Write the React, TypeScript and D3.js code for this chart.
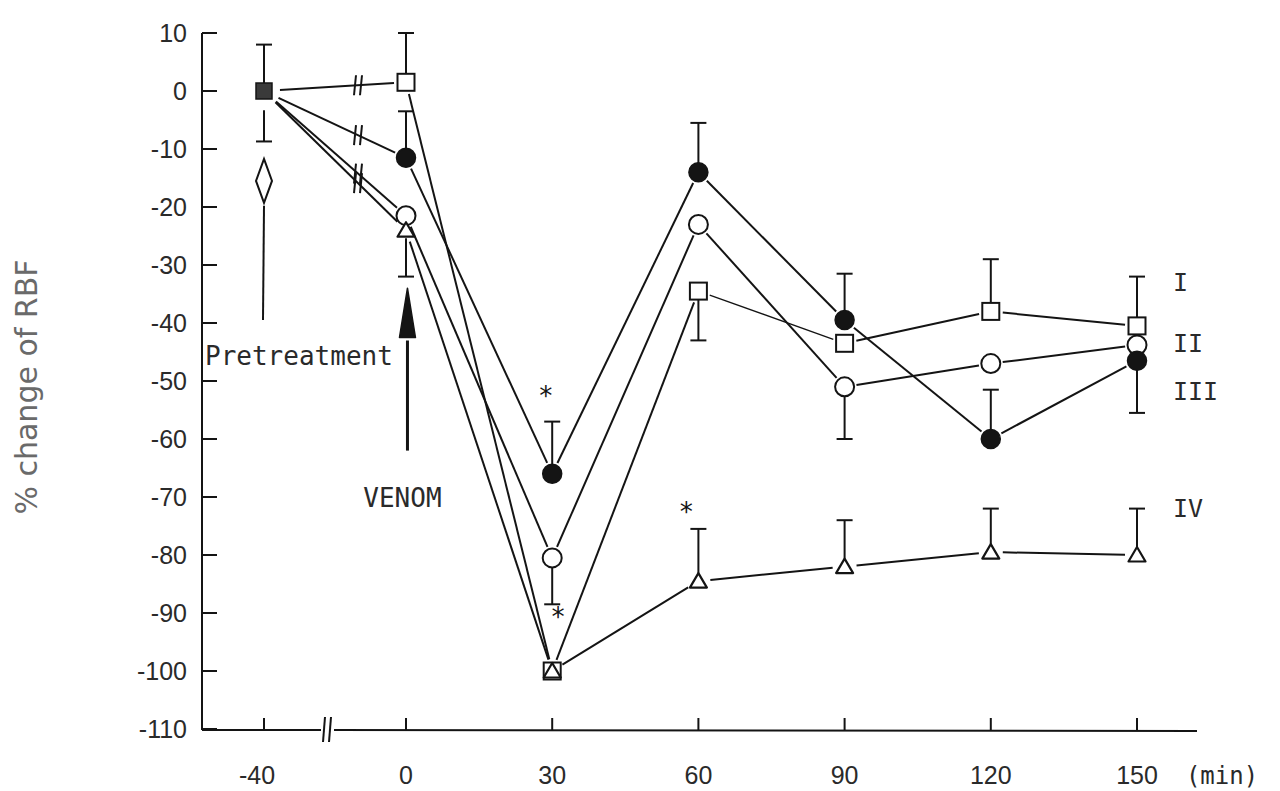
import React from "react";
import * as d3 from "d3";

// ---------- data ----------
const times = [-40, 0, 30, 60, 90, 120, 150];
const xTickValues = [-40, 0, 30, 60, 90, 120, 150];
const yTickValues = [10, 0, -10, -20, -30, -40, -50, -60, -70, -80, -90, -100, -110];

const seriesNames = ["I", "II", "III", "IV"];
const seriesShapes = ["square", "circleOpen", "circleFilled", "triangle"];
// % change of RBF (mean)
const seriesI = [0, 1.5, -100, -34.5, -43.5, -38, -40.5];
const seriesII = [0, -21.5, -80.5, -23, -51, -47, -43.8];
const seriesIII = [0, -11.5, -66, -14, -39.5, -60, -46.5];
const seriesIV = [0, -24, -100, -84.5, -82, -79.5, -80];
// end value of the one-sided error bar (null = none)
const errI = [null, 10, null, -43, null, -29, -32];
const errII = [null, null, -88.5, null, -60, null, null];
const errIII = [null, -3.5, -57, -5.5, -31.5, -51.5, -55.5];
const errIV = [null, -32, null, -75.5, -74, -72, -72];
// pretreatment (-40 min) shared point error bar: upper end, lower start / end
const pretreatUpper = 8;
const pretreatLower = [-3.3, -8.7];

// series end labels: value positions
const seriesLabelValues = [-33, -43.4, -51.7, -71.9];

// significance asterisks [time, value]
const asterisks = [
  [28.7, -51.8],
  [31.2, -89.8],
  [57.5, -71.8],
];

// arrows (values along the y axis)
const pretreatArrow = { t: -40, diamondCenter: -15.5, lineFrom: -19.8, lineTo: -39.5 };
const venomArrow = { t: 0.3, tip: -34, base: -42.5, lineTo: -62 };

// ---------- layout ----------
const W = 1280;
const H = 791;
const axisLeft = 202;
const axisRight = 1197;
const axisY = 730;

const x = d3.scaleLinear().domain([-40, 0, 150]).range([264, 406, 1137]);
const y = d3.scaleLinear().domain([10, -110]).range([33, 729]);

const INK = "#141414";
const TEXT = "#2a2a2a";
const monoFont = "'DejaVu Sans Mono', monospace";
const sansFont = "'Liberation Sans', Arial, sans-serif";

const allValues = [seriesI, seriesII, seriesIII, seriesIV];
const allErr = [errI, errII, errIII, errIV];

function Marker({ shape, cx, cy }: { shape: string; cx: number; cy: number }) {
  if (shape === "square") {
    return <rect x={cx - 8.5} y={cy - 8.5} width={17} height={17} fill="white" stroke={INK} strokeWidth={2} />;
  }
  if (shape === "circleOpen") {
    return <circle cx={cx} cy={cy} r={9.5} fill="white" stroke={INK} strokeWidth={2} />;
  }
  if (shape === "circleFilled") {
    return <circle cx={cx} cy={cy} r={9.5} fill={INK} stroke={INK} strokeWidth={1.5} />;
  }
  const pts = [
    [cx, cy - 8],
    [cx + 8.5, cy + 6.5],
    [cx - 8.5, cy + 6.5],
  ]
    .map((p) => p.join(","))
    .join(" ");
  return <polygon points={pts} fill="white" stroke={INK} strokeWidth={2.2} strokeLinejoin="round" />;
}

function trimmed(x1: number, y1: number, x2: number, y2: number, a: number, b: number) {
  const dx = x2 - x1;
  const dy = y2 - y1;
  const len = Math.hypot(dx, dy);
  const ux = dx / len;
  const uy = dy / len;
  return [x1 + ux * a, y1 + uy * a, x2 - ux * b, y2 - uy * b];
}

export default function App() {
  const breakX = 358;
  const lines: React.ReactNode[] = [];
  const breaks: React.ReactNode[] = [];
  const errs: React.ReactNode[] = [];
  const markers: React.ReactNode[] = [];

  allValues.forEach((vals, s) => {
    for (let i = 0; i < vals.length - 1; i++) {
      const x1 = x(times[i]);
      const y1 = y(vals[i]);
      const x2 = x(times[i + 1]);
      const y2 = y(vals[i + 1]);
      const [a1, b1, a2, b2] = trimmed(x1, y1, x2, y2, i === 0 ? 16 : 12, 12);
      lines.push(
        <line key={`l${s}-${i}`} x1={a1} y1={b1} x2={a2} y2={b2} stroke={INK} strokeWidth={s === 0 && i === 3 ? 1.3 : 2} />
      );
      if (i === 0) {
        const f = (breakX - x1) / (x2 - x1);
        const by = y1 + f * (y2 - y1);
        [-3, 3].forEach((o, k) => {
          breaks.push(
            <line key={`b${s}-${k}`} x1={breakX + o + 1} y1={by - 10} x2={breakX + o - 1} y2={by + 10} stroke={INK} strokeWidth={2} />
          );
        });
      }
    }
    const errsOf = allErr[s];
    vals.forEach((v, i) => {
      const e = errsOf[i];
      if (e === null || e === undefined) return;
      const cx = x(times[i]);
      const cy = y(v);
      const ey = y(e);
      const dir = ey < cy ? -1 : 1;
      errs.push(
        <g key={`e${s}-${i}`} stroke={INK} strokeWidth={2}>
          <line x1={cx} y1={cy + dir * 8} x2={cx} y2={ey} />
          <line x1={cx - 8} y1={ey} x2={cx + 8} y2={ey} />
        </g>
      );
    });
    vals.forEach((v, i) => {
      if (i === 0) return;
      markers.push(<Marker key={`m${s}-${i}`} shape={seriesShapes[s]} cx={x(times[i])} cy={y(v)} />);
    });
  });

  const px0 = x(times[0]);
  const py0 = y(0);

  const dX = x(pretreatArrow.t);
  const dY = y(pretreatArrow.diamondCenter);
  const vX = x(venomArrow.t);

  return (
    <svg width={W} height={H} style={{ position: "absolute", left: 0, top: 0, background: "white" }}>
      <rect x={0} y={0} width={W} height={H} fill="white" />

      {/* y axis */}
      <line x1={axisLeft} y1={y(10)} x2={axisLeft} y2={axisY} stroke={INK} strokeWidth={2} />
      {yTickValues.map((v) => (
        <g key={`yt${v}`}>
          <line x1={axisLeft} y1={y(v)} x2={axisLeft + 15} y2={y(v)} stroke={INK} strokeWidth={2} />
          <text x={187} y={y(v)} dy="0.36em" textAnchor="end" fontFamily={sansFont} fontSize={25} fill={TEXT}>
            {String(v)}
          </text>
        </g>
      ))}

      {/* x axis with break */}
      <line x1={axisLeft} y1={axisY} x2={321} y2={axisY} stroke={INK} strokeWidth={2} />
      <line x1={334} y1={axisY} x2={axisRight} y2={axisY + 1} stroke={INK} strokeWidth={2} />
      <line x1={325} y1={717} x2={323} y2={742} stroke={INK} strokeWidth={2} />
      <line x1={331} y1={717} x2={329} y2={742} stroke={INK} strokeWidth={2} />
      {xTickValues.map((t) => (
        <g key={`xt${t}`}>
          <line x1={x(t)} y1={axisY} x2={x(t)} y2={axisY - 12} stroke={INK} strokeWidth={2} />
          <text x={x(t) + (t < 0 ? -7 : 0)} y={784} textAnchor="middle" fontFamily={sansFont} fontSize={25} fill={TEXT}>
            {String(t)}
          </text>
        </g>
      ))}
      <text x={1222} y={784} textAnchor="middle" fontFamily={monoFont} fontSize={24} fill={TEXT}>
        (min)
      </text>

      {/* y axis title */}
      <text
        transform={`translate(26,387) rotate(-90)`}
        textAnchor="middle"
        dy="0.35em"
        fontFamily="'DejaVu Sans', sans-serif"
        fontSize={30}
        fill="#6a6a6a"
      >
        % change of RBF
      </text>

      {/* connecting lines */}
      {lines}
      {breaks}

      {/* pretreatment error bar */}
      <g stroke={INK} strokeWidth={2}>
        <line x1={px0} y1={py0 - 8} x2={px0} y2={y(pretreatUpper)} />
        <line x1={px0 - 8} y1={y(pretreatUpper)} x2={px0 + 8} y2={y(pretreatUpper)} />
        <line x1={px0} y1={y(pretreatLower[0])} x2={px0} y2={y(pretreatLower[1])} />
        <line x1={px0 - 8} y1={y(pretreatLower[1])} x2={px0 + 8} y2={y(pretreatLower[1])} />
      </g>
      {errs}
      {markers}
      <rect x={px0 - 8} y={py0 - 8} width={16} height={16} fill="#3a3a3a" stroke={INK} strokeWidth={1.5} />

      {/* pretreatment arrow */}
      <polygon
        points={`${dX},${dY - 22} ${dX + 8},${dY} ${dX},${dY + 22} ${dX - 8},${dY}`}
        fill="white"
        stroke={INK}
        strokeWidth={2}
      />
      <line x1={dX} y1={y(pretreatArrow.lineFrom)} x2={dX - 1} y2={y(pretreatArrow.lineTo)} stroke={INK} strokeWidth={2} />
      <text x={205} y={365} fontFamily={monoFont} fontSize={26} fill={TEXT}>
        Pretreatment
      </text>

      {/* venom arrow */}
      <polygon
        points={`${vX},${y(venomArrow.tip)} ${vX + 8},${y(venomArrow.base)} ${vX - 8},${y(venomArrow.base)}`}
        fill={INK}
        stroke={INK}
        strokeWidth={1.5}
        strokeLinejoin="round"
      />
      <line x1={vX} y1={y(venomArrow.base) + 3} x2={vX} y2={y(venomArrow.lineTo)} stroke={INK} strokeWidth={3} />
      <text x={vX - 5} y={507} textAnchor="middle" fontFamily={monoFont} fontSize={26} fill={TEXT}>
        VENOM
      </text>

      {/* asterisks */}
      {asterisks.map(([t, v], i) => (
        <text key={`a${i}`} x={x(t)} y={y(v) + 14} textAnchor="middle" fontFamily={monoFont} fontSize={26} fill={INK}>
          *
        </text>
      ))}

      {/* series labels */}
      {seriesNames.map((n, i) => (
        <text key={`sl${n}`} x={1173} y={y(seriesLabelValues[i])} dy="0.36em" fontFamily={monoFont} fontSize={25} fill={TEXT}>
          {n}
        </text>
      ))}
    </svg>
  );
}
